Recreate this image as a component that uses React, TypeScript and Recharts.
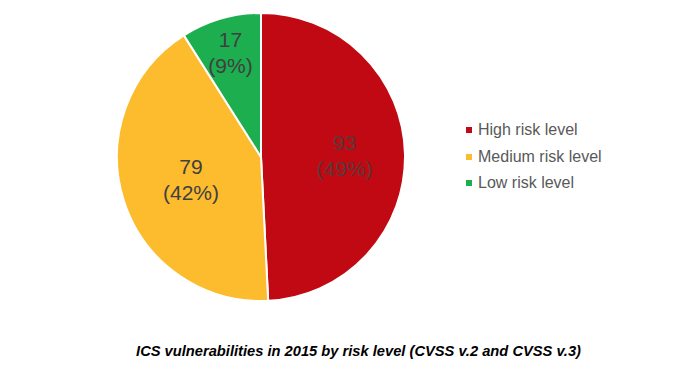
import React from 'react';
import { PieChart, Pie, Cell, Legend } from 'recharts';

const levels = ['High risk level', 'Medium risk level', 'Low risk level'];
const counts = [93, 79, 17];
const colors = ['#C00912', '#FCBC2E', '#1CAE4F'];
// label distance from center as a fraction of radius (Excel best-fit look)
const labelRadius = [0.58, 0.51, 0.76];

const data = levels.map((name, i) => ({ name, value: counts[i] }));

const RAD = Math.PI / 180;

const renderLabel = (props: any) => {
  const { cx, cy, midAngle, outerRadius, index, value, percent } = props;
  const r = outerRadius * labelRadius[index];
  const x = cx + r * Math.cos(-midAngle * RAD);
  const y = cy + r * Math.sin(-midAngle * RAD);
  return (
    <text
      x={x}
      y={y}
      textAnchor="middle"
      fill={index === 0 ? '#5a3838' : '#404040'}
      fontSize={21}
      fontFamily="'Liberation Sans', Arial, sans-serif"
    >
      <tspan x={x} dy={-5}>{value}</tspan>
      <tspan x={x} dy={26}>{`(${Math.round(percent * 100)}%)`}</tspan>
    </text>
  );
};

const LegendContent = () => (
  <div style={{ fontFamily: "'Liberation Sans', Arial, sans-serif", fontSize: 16, color: '#595959' }}>
    {levels.map((name, i) => (
      <div key={name} style={{ display: 'flex', alignItems: 'center', height: 26.5 }}>
        <span style={{ width: 6, height: 6, background: colors[i], marginRight: 6, display: 'inline-block' }} />
        <span>{name}</span>
      </div>
    ))}
  </div>
);

export default function App() {
  return (
    <div style={{ position: 'absolute', left: 0, top: 0, width: 680, height: 373, background: '#fff' }}>
      <PieChart width={680} height={373} margin={{ top: 0, right: 0, bottom: 0, left: 0 }}>
        <Pie
          data={data}
          dataKey="value"
          nameKey="name"
          cx={261}
          cy={157}
          outerRadius={144}
          startAngle={90}
          endAngle={-270}
          stroke="#ffffff"
          strokeWidth={2}
          label={renderLabel}
          labelLine={false}
          isAnimationActive={false}
        >
          {data.map((d, i) => (
            <Cell key={d.name} fill={colors[i]} />
          ))}
        </Pie>
        <Legend
          content={<LegendContent />}
          wrapperStyle={{ position: 'absolute', left: 466, top: 117, width: 200 }}
        />
      </PieChart>
      <div
        style={{
          position: 'absolute',
          left: 0,
          top: 343,
          width: 717,
          textAlign: 'center',
          fontFamily: "'Liberation Sans', Arial, sans-serif",
          fontSize: 14.7,
          fontWeight: 'bold',
          fontStyle: 'italic',
          color: '#000',
        }}
      >
        ICS vulnerabilities in 2015 by risk level (CVSS v.2 and CVSS v.3)
      </div>
    </div>
  );
}
